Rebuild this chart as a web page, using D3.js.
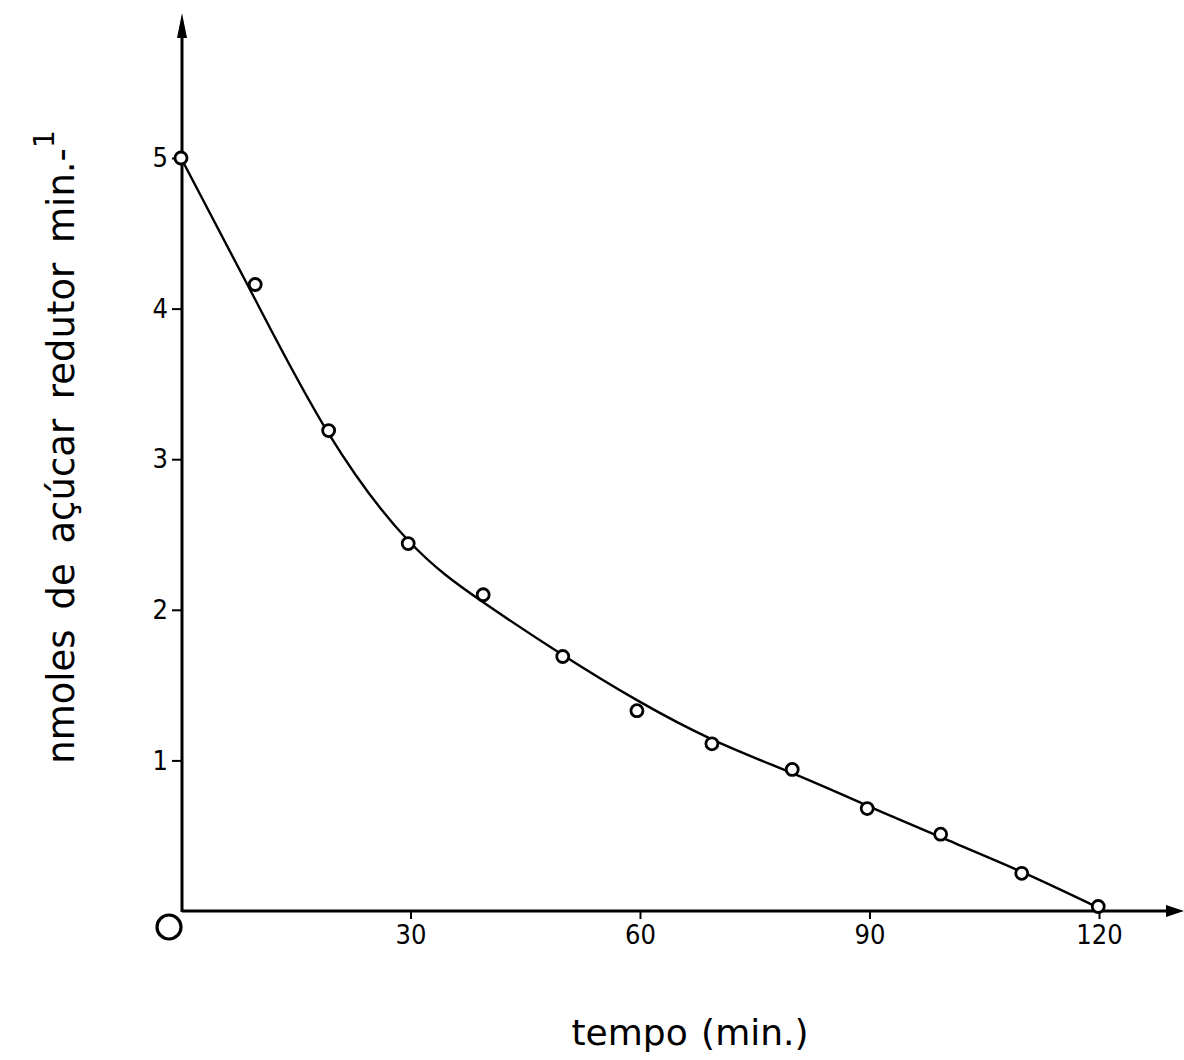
<!DOCTYPE html>
<html><head><meta charset="utf-8">
<script src="https://cdn.jsdelivr.net/npm/d3@7/dist/d3.min.js"></script>
<style>body{margin:0;background:#fff}svg{display:block}</style>
</head><body>
<svg id="c" width="1184" height="1060"></svg>
<script>
const times = [0,9.7,19.3,29.7,39.5,49.9,59.6,69.4,79.9,89.7,99.3,109.9,119.9];
const values = [5.0,4.16,3.19,2.44,2.10,1.69,1.33,1.11,0.94,0.68,0.51,0.25,0.03];
const fitTimes = [0,9.7,19.3,29.7,39.5,49.9,59.6,69.4,79.9,89.7,99.3,109.9,120];
const fitValues = [5.0,4.06,3.17,2.46,2.05,1.70,1.40,1.14,0.915,0.70,0.49,0.26,0.02];
const xTicks = [30,60,90,120];
const yTicks = [1,2,3,4,5];
const xTitle = "tempo (min.)";
const yTitle = "nmoles de açúcar redutor min.";

const svg = d3.select("#c");
const fontC = "'DejaVu Sans Condensed', 'DejaVu Sans', sans-serif";
const font = "'DejaVu Sans', sans-serif";
const x = d3.scaleLinear().domain([0,120]).range([181,1099]);
const y = d3.scaleLinear().domain([0,5]).range([911,158]);

// axes lines
svg.append("line").attr("x1",182).attr("x2",1172).attr("y1",y(0)).attr("y2",y(0))
  .attr("stroke","#000").attr("stroke-width",3);
svg.append("line").attr("x1",182).attr("x2",182).attr("y1",y(0)+1).attr("y2",34)
  .attr("stroke","#000").attr("stroke-width",3);
svg.append("path").attr("d","M1184,911 L1166,905 L1166,917 Z").attr("fill","#000");
svg.append("path").attr("d","M182,13 L177,38 L187,38 Z").attr("fill","#000");

const xAxis = d3.axisBottom(x).tickValues(xTicks).tickSize(8).tickPadding(6).tickFormat(d3.format("d"));
const gx = svg.append("g").attr("transform",`translate(0,${y(0)})`).call(xAxis);
gx.select(".domain").remove();
gx.selectAll("line").attr("stroke","#000").attr("stroke-width",2);
gx.selectAll("text").attr("font-family",fontC).attr("font-size",27).attr("fill","#000");

const yAxis = d3.axisLeft(y).tickValues(yTicks).tickSize(10).tickPadding(4).tickFormat(d3.format("d"));
const gy = svg.append("g").attr("transform","translate(182,0)").call(yAxis);
gy.select(".domain").remove();
gy.selectAll("line").attr("stroke","#000").attr("stroke-width",2);
gy.selectAll("text").attr("font-family",fontC).attr("font-size",27).attr("fill","#000");

// origin "O"
svg.append("circle").attr("cx",169).attr("cy",927).attr("r",12)
  .attr("fill","none").attr("stroke","#000").attr("stroke-width",3.2);

// fitted curve
const line = d3.line().x((d,i)=>x(fitTimes[i])).y(d=>y(d)).curve(d3.curveNatural);
svg.append("path").attr("d",line(fitValues)).attr("fill","none").attr("stroke","#000").attr("stroke-width",2.4);

// points
svg.selectAll("circle.pt").data(values).enter().append("circle").attr("class","pt")
  .attr("cx",(d,i)=>x(times[i])).attr("cy",d=>y(d)).attr("r",6)
  .attr("fill","#fff").attr("stroke","#000").attr("stroke-width",2.8);

// titles
svg.append("text").attr("x",690).attr("y",1045).attr("text-anchor","middle")
  .attr("font-family",font).attr("font-size",36).attr("word-spacing",2).attr("fill","#000").text(xTitle);
const yt = svg.append("text").attr("transform","translate(74,447) rotate(-90)").attr("text-anchor","middle")
  .attr("font-family",font).attr("font-size",37).attr("word-spacing",8).attr("fill","#000");
yt.append("tspan").text(yTitle);
yt.append("tspan").text("-");
yt.append("tspan").text("1").attr("dy",-20).attr("font-size",28);
</script>
</body></html>
